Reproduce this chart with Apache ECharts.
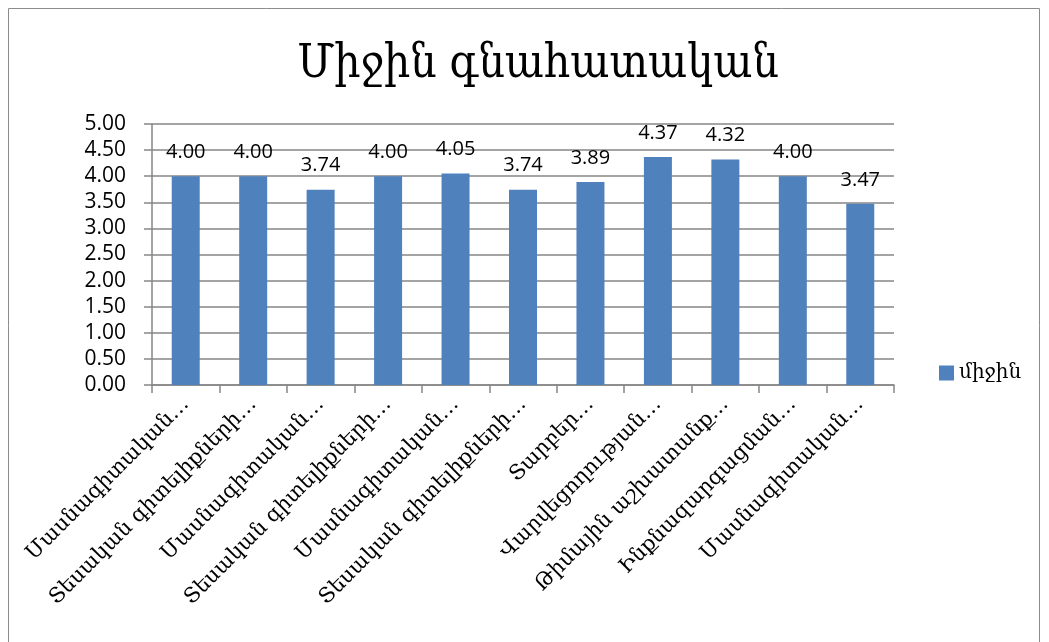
<!DOCTYPE html>
<html><head><meta charset="utf-8">
<script src="https://cdn.jsdelivr.net/npm/echarts@6/dist/echarts.min.js"></script>
<style>html,body{margin:0;padding:0;background:#fff}#c{width:1049px;height:642px}</style>
</head><body><div id="c"></div>
<script>
const categories = ["Մասնագիտական…","Տեսական գիտելիքների…","Մասնագիտական…","Տեսական գիտելիքների…","Մասնագիտական…","Տեսական գիտելիքների…","Տարբեր…","Վարվեցողության…","Թիմային աշխատանք…","Ինքնազարգացման…","Մասնագիտական…"];
const values = [4.00,4.00,3.74,4.00,4.05,3.74,3.89,4.37,4.32,4.00,3.47];
const seriesName = "միջին";
const titleText = "Միջին գնահատական";

const chart = echarts.init(document.getElementById('c'), null, {renderer:'canvas'});
chart.setOption({
  animation:false,
  backgroundColor:'#fff',
  graphic:[{type:'rect',shape:{x:8.5,y:8.5,width:1031,height:700},style:{fill:null,stroke:'#8c8c8c',lineWidth:1},silent:true}],
  title:{text:titleText,left:533,top:37,textAlign:'center',textStyle:{fontFamily:'DejaVu Serif Condensed, DejaVu Serif',fontSize:46,fontWeight:'normal',color:'#000'}},
  legend:{data:[seriesName],left:934,top:358,itemWidth:15,itemHeight:15,itemGap:6,icon:'rect',textStyle:{fontFamily:'DejaVu Serif',fontSize:20,color:'#000'}},
  grid:{left:152,right:155,top:124,bottom:257,containLabel:false},
  xAxis:{type:'category',data:categories,
    axisLine:{lineStyle:{color:'#868686',width:1.5}},
    axisTick:{show:true,alignWithLabel:false,length:8,lineStyle:{color:'#868686',width:1.5}},
    axisLabel:{rotate:45,interval:0,margin:16,fontFamily:'DejaVu Serif',fontSize:21,color:'#000'}},
  yAxis:{type:'value',min:0,max:5,interval:0.5,
    axisLine:{show:true,lineStyle:{color:'#868686',width:1.5}},
    axisTick:{show:true,length:8,lineStyle:{color:'#868686',width:1.5}},
    splitLine:{lineStyle:{color:'#868686',width:1.5}},
    axisLabel:{formatter:v=>v.toFixed(2),fontFamily:'Open Sans',fontSize:21,color:'#000',margin:26}},
  series:[{name:seriesName,type:'bar',data:values,barWidth:28,
    itemStyle:{color:'#4F81BD'},
    label:{show:true,position:'top',distance:14,formatter:p=>p.value.toFixed(2),fontFamily:'Open Sans',fontSize:20,color:'#000'}}]
});
</script></body></html>
